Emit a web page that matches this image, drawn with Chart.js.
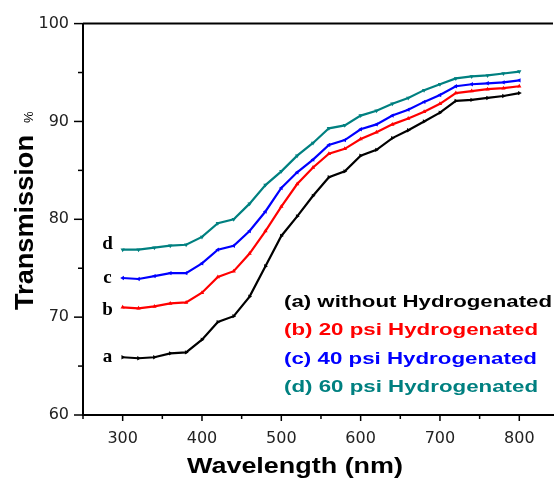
<!DOCTYPE html>
<html>
<head>
<meta charset="utf-8">
<script src="https://cdn.jsdelivr.net/npm/chart.js@4.4.0/dist/chart.umd.min.js"></script>
<style>
  html, body { margin: 0; padding: 0; background: #fff; }
  #wrap { width: 557px; height: 484px; overflow: hidden; }
</style>
</head>
<body>
<div id="wrap"><canvas id="transChart" width="557" height="484"></canvas></div>
<script>
// wavelength (nm)
const wavelengths = [300, 320, 340, 360, 380, 400, 420, 440, 460, 480, 500, 520, 540,
                     560, 580, 600, 620, 640, 660, 680, 700, 720, 740, 760, 780, 800];

// transmission (%)
const seriesA = [65.9, 65.8, 65.9, 66.3, 66.4, 67.7, 69.5, 70.1, 72.1, 75.2, 78.3, 80.3, 82.4,
                 84.3, 84.9, 86.5, 87.1, 88.3, 89.1, 90.0, 90.9, 92.1, 92.2, 92.4, 92.6, 92.9];
const seriesB = [71.0, 70.9, 71.1, 71.4, 71.5, 72.5, 74.1, 74.7, 76.5, 78.8, 81.3, 83.6, 85.3,
                 86.7, 87.2, 88.2, 88.9, 89.7, 90.3, 91.0, 91.8, 92.9, 93.1, 93.3, 93.4, 93.6];
const seriesC = [74.0, 73.9, 74.2, 74.5, 74.5, 75.5, 76.9, 77.3, 78.8, 80.8, 83.2, 84.8, 86.1,
                 87.6, 88.1, 89.2, 89.7, 90.6, 91.2, 92.0, 92.7, 93.6, 93.8, 93.9, 94.0, 94.2];
const seriesD = [76.9, 76.9, 77.1, 77.3, 77.4, 78.2, 79.6, 80.0, 81.6, 83.5, 84.9, 86.5, 87.8,
                 89.3, 89.6, 90.6, 91.1, 91.8, 92.4, 93.2, 93.8, 94.4, 94.6, 94.7, 94.9, 95.1];

const seriesNames = ['(a) without Hydrogenated', '(b) 20 psi Hydrogenated',
                     '(c) 40 psi Hydrogenated', '(d) 60 psi Hydrogenated'];
const curveLetters = ['a', 'b', 'c', 'd'];
const seriesColors = ['#000000', '#ff0000', '#0000ff', '#008080'];
const markerRotation = [90, 0, -90, 180];

const allSeries = [seriesA, seriesB, seriesC, seriesD];

// draw text squeezed/stretched horizontally to a given width
function drawFitText(ctx, text, x, y, width, font, color) {
    ctx.save();
    ctx.font = font;
    ctx.fillStyle = color;
    ctx.textAlign = 'left';
    ctx.textBaseline = 'alphabetic';
    const w = ctx.measureText(text).width;
    ctx.translate(x, y);
    ctx.scale(width / w, 1);
    ctx.fillText(text, 0, 0);
    ctx.restore();
}

const decorPlugin = {
    id: 'decor',
    afterDraw(chart) {
        const ctx = chart.ctx;
        const area = chart.chartArea;
        const xs = chart.scales.x;
        const ys = chart.scales.y;

        ctx.save();
        ctx.strokeStyle = '#000';
        ctx.lineWidth = 2;

        // top frame line
        ctx.beginPath();
        ctx.moveTo(area.left, area.top);
        ctx.lineTo(area.right, area.top);
        ctx.stroke();

        // outward ticks, long at labelled values
        ctx.lineWidth = 1.5;
        xs.ticks.forEach(t => {
            if (t.value % 50 !== 0) return;
            const px = xs.getPixelForValue(t.value);
            const len = t.value % 100 === 0 ? 6 : 4;
            ctx.beginPath();
            ctx.moveTo(px, area.bottom);
            ctx.lineTo(px, area.bottom + len);
            ctx.stroke();
        });
        ys.ticks.forEach(t => {
            const py = ys.getPixelForValue(t.value);
            const len = t.value % 10 === 0 ? 9 : 5;
            ctx.beginPath();
            ctx.moveTo(area.left, py);
            ctx.lineTo(area.left - len, py);
            ctx.stroke();
        });
        ctx.restore();

        // curve letters next to the start of each line
        ctx.save();
        ctx.font = 'bold 19px "Liberation Serif"';
        ctx.fillStyle = '#000';
        ctx.textAlign = 'center';
        ctx.textBaseline = 'middle';
        const letterShift = [0, 3, 0, -6];
        allSeries.forEach((s, i) => {
            ctx.fillText(curveLetters[i], xs.getPixelForValue(281),
                         ys.getPixelForValue(s[0]) + letterShift[i]);
        });
        ctx.restore();

        // legend text
        const legendWidths = [268, 254, 253, 254];
        seriesNames.forEach((name, i) => {
            drawFitText(ctx, name, 284, 307 + i * 28.4, legendWidths[i],
                        'bold 17px "Liberation Sans"', seriesColors[i]);
        });

        // x axis title
        drawFitText(ctx, 'Wavelength (nm)', 187, 473, 216, 'bold 22px "Liberation Sans"', '#000');

        // y axis title
        ctx.save();
        ctx.translate(33, 310);
        ctx.rotate(-Math.PI / 2);
        ctx.font = 'bold 25px "Liberation Sans"';
        ctx.fillStyle = '#000';
        const tw = ctx.measureText('Transmission').width;
        ctx.save();
        ctx.scale(175 / tw, 1);
        ctx.fillText('Transmission', 0, 0);
        ctx.restore();
        ctx.font = '13px "Liberation Sans"';
        ctx.fillText('%', 187, 0);
        ctx.restore();
    }
};

const ctx = document.getElementById('transChart').getContext('2d');
const transChart = new Chart(ctx, {
    type: 'line',
    data: {
        datasets: allSeries.map((s, i) => ({
            label: seriesNames[i],
            data: wavelengths.map((w, j) => ({ x: w, y: s[j] })),
            borderColor: seriesColors[i],
            backgroundColor: seriesColors[i],
            borderWidth: 2.2,
            pointStyle: 'triangle',
            pointRotation: markerRotation[i],
            pointRadius: 2.5,
            pointBorderWidth: 0,
            tension: 0
        }))
    },
    options: {
        responsive: false,
        animation: false,
        layout: {
            padding: { top: 16, right: 0, left: 0, bottom: 0 }
        },
        plugins: {
            legend: { display: false },
            tooltip: { enabled: false }
        },
        scales: {
            x: {
                type: 'linear',
                min: 250,
                max: 842.5,
                afterFit: scale => { scale.height = 69; },
                ticks: {
                    stepSize: 50,
                    includeBounds: false,
                    autoSkip: false,
                    maxRotation: 0,
                    padding: 14,
                    color: '#222',
                    font: { family: 'DejaVu Sans', size: 16 },
                    callback: v => (v % 100 === 0 ? v : '')
                },
                grid: {
                    display: true,
                    drawOnChartArea: false,
                    drawTicks: false
                },
                border: { display: true, color: '#000', width: 2 }
            },
            y: {
                min: 60,
                max: 100,
                afterFit: scale => { scale.width = 83; },
                ticks: {
                    stepSize: 5,
                    autoSkip: false,
                    padding: 14,
                    color: '#222',
                    font: { family: 'DejaVu Sans', size: 16 },
                    callback: v => (v % 10 === 0 ? v : '')
                },
                grid: {
                    display: true,
                    drawOnChartArea: false,
                    drawTicks: false
                },
                border: { display: true, color: '#000', width: 2 }
            }
        }
    },
    plugins: [decorPlugin]
});
</script>
</body>
</html>
